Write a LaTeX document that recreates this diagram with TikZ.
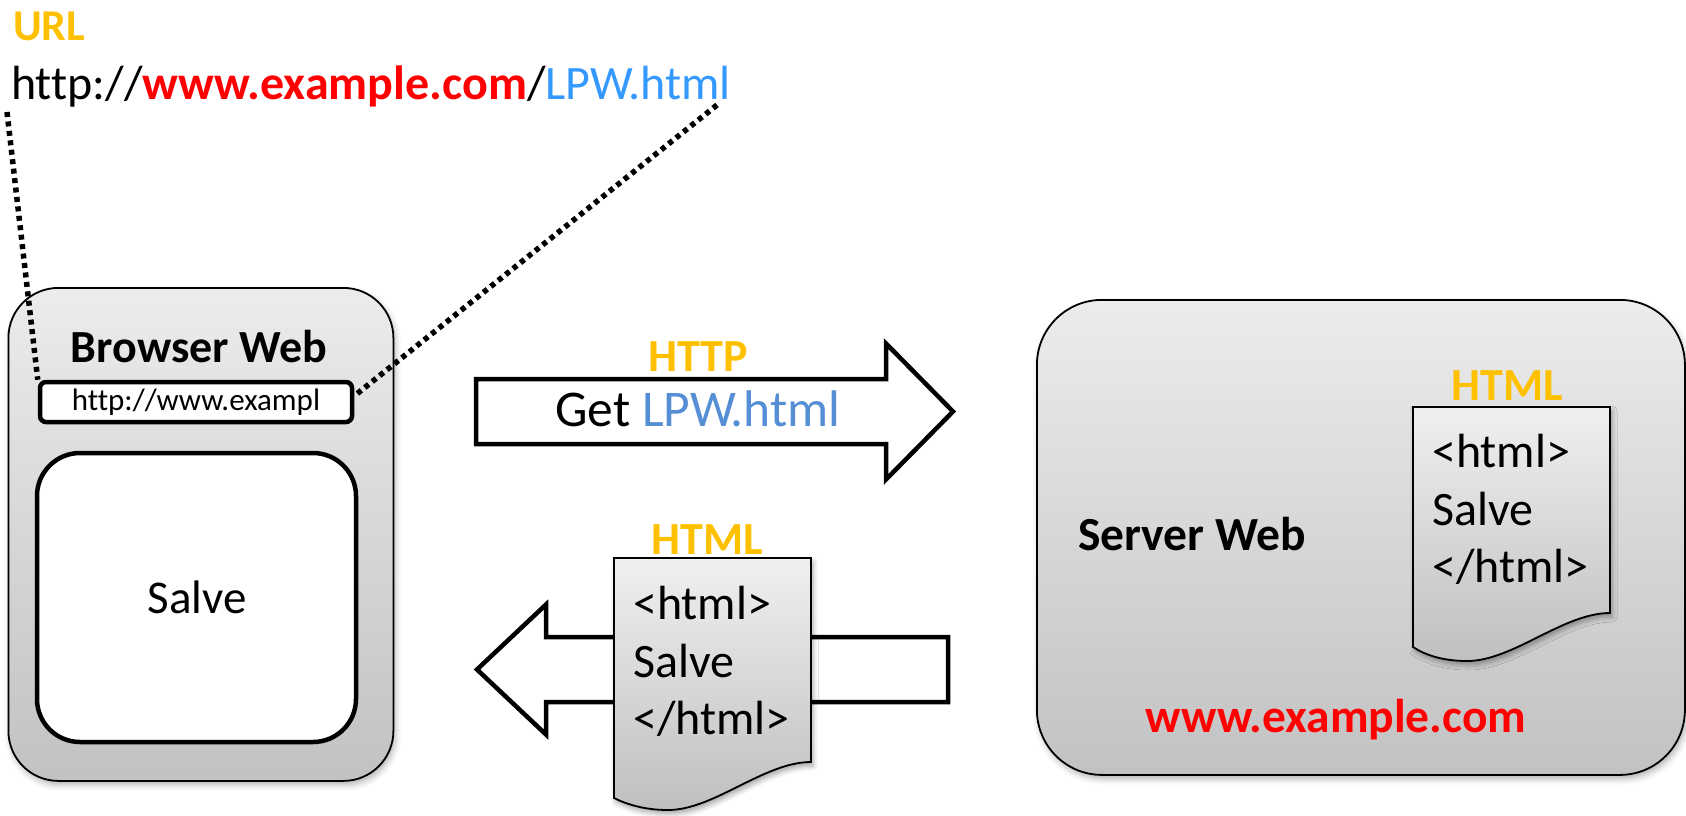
\documentclass[tikz,border=0pt]{standalone}
\usepackage{fontspec}
\setmainfont[Ligatures=NoCommon]{Carlito}
\usetikzlibrary{shadows.blur}
\definecolor{gold}{HTML}{FFC000}
\definecolor{urlred}{HTML}{FF0000}
\definecolor{urlblue}{HTML}{3399FF}
\definecolor{getblue}{HTML}{558ED5}
\newcommand{\fsz}[2]{\fontsize{#1}{#2}\selectfont}
\tikzset{
  graybox/.style={draw=black, line width=1.8pt, top color=gray!15, bottom color=gray!48,
    blur shadow={shadow xshift=2pt, shadow yshift=-4pt, shadow blur radius=6pt, shadow opacity=30},
    inner sep=0pt, anchor=north west},
  thickbox/.style={draw=black, fill=white, line width=4.5pt, inner sep=0pt},
  bigarrow/.style={draw=black, fill=white, line width=4.5pt, line join=miter},
  docshape/.style={draw=black, line width=1.8pt, top color=gray!12, bottom color=gray!50,
    blur shadow={shadow xshift=2pt, shadow yshift=-4pt, shadow blur radius=5pt, shadow opacity=35}},
  dotline/.style={draw=black, line width=5.5pt, dash pattern=on 5pt off 4.5pt},
  lbl/.style={inner sep=0pt, anchor=base},
  lblw/.style={inner sep=0pt, anchor=base west},
  goldlbl/.style={lbl, text=gold, font=\fsz{46}{55}\bfseries},
  doctxt/.style={lblw, font=\fsz{48}{57}},
}
\begin{document}
\begin{tikzpicture}[x=1pt, y=-1pt]
\useasboundingbox (0,0) rectangle (1686,815);

% ---------- URL header ----------
\node[lblw, text=gold, font=\fsz{44}{52}\bfseries] (urltitle) at (13,40) {URL};
\node[lblw, font=\fsz{48}{57}] (urlline) at (11,99)
  {http://\textcolor{urlred}{\bfseries www.example.com}/\textcolor{urlblue}{LPW.html}};
\coordinate (dl) at (7,112);
\coordinate (dr) at (717,105);

% ---------- Browser ----------
\node[graybox, rounded corners=50pt, minimum width=385pt, minimum height=493pt] (browser) at (7.5,287) {};
\node[lbl, font=\fsz{46}{55}\bfseries] (brtitle) at (199,362) {Browser Web};
\node[thickbox, rounded corners=6pt, minimum width=312pt, minimum height=40pt,
      font=\fsz{31}{37}] (urlbar) at (196,402) {http://www.exampl};
\node[thickbox, rounded corners=43pt, minimum width=319pt, minimum height=289pt] (page) at (196.5,597.5) {};
\node[lbl, font=\fsz{47}{56}] (salve) at (197,613) {Salve};

\draw[dotline] (dl) -- (urlbar.north west);
\draw[dotline] (dr) -- ([yshift=6pt]urlbar.east);

% ---------- Request arrow ----------
\draw[bigarrow] (476,379) -- (886,379) -- (886,343.5) -- (953,411.5) -- (886,479.5) -- (886,444) -- (476,444) -- cycle;
\node[goldlbl] (http) at (698,371) {HTTP};
\node[lbl, font=\fsz{51.5}{62}] (get) at (698,426) {Get \textcolor{getblue}{LPW.html}};

% ---------- Response arrow ----------
\draw[bigarrow] (948,637) -- (546,637) -- (546,604.5) -- (477,669.5) -- (546,734.5) -- (546,702) -- (948,702) -- cycle;

% middle document
\path[docshape] (614,558) -- (811,558) -- (811,762)
  .. controls (764,762) and (714,810) .. (668,810)
  .. controls (644,810) and (626,804) .. (614,798) -- cycle;
\node[goldlbl] (html1) at (707,554) {HTML};
\node[doctxt] (d1a) at (633,619) {<html>};
\node[doctxt] (d1b) at (633,677) {Salve};
\node[doctxt] (d1c) at (633,734) {</html>};

% ---------- Server ----------
\node[graybox, rounded corners=65pt, minimum width=648pt, minimum height=475pt] (server) at (1036,299) {};
\node[lblw, font=\fsz{47.5}{56}\bfseries] (srvtitle) at (1078,550) {Server Web};
\node[lbl, text=urlred, font=\fsz{47.5}{56}\bfseries] (domain) at (1336,732) {www.example.com};

\path[docshape] (1413,407) -- (1610,407) -- (1610,613)
  .. controls (1563,613) and (1513,661) .. (1467,661)
  .. controls (1443,661) and (1425,655) .. (1413,647) -- cycle;
\node[goldlbl] (html2) at (1507,400) {HTML};
\node[doctxt] (d2a) at (1432,467) {<html>};
\node[doctxt] (d2b) at (1432,525) {Salve};
\node[doctxt] (d2c) at (1432,582) {</html>};
\end{tikzpicture}
\end{document}
